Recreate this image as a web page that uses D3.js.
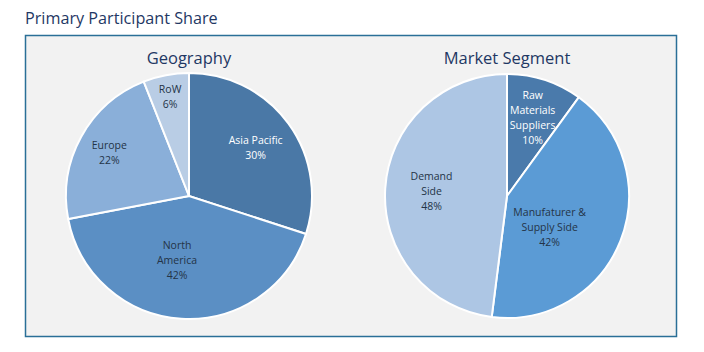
<!DOCTYPE html>
<html><head><meta charset="utf-8">
<script src="https://cdn.jsdelivr.net/npm/d3@7"></script>
<style>body{margin:0;background:#fff;}svg{display:block;font-family:"Open Sans","Noto Sans",sans-serif;}</style>
</head><body>
<svg id="c" width="704" height="352"></svg>
<script>
const geoCategories = ["Asia Pacific", "North America", "Europe", "RoW"];
const geoValues = [30, 42, 22, 6];
const segCategories = ["Raw Materials Suppliers", "Manufaturer & Supply Side", "Demand Side"];
const segValues = [10, 42, 48];

const svg = d3.select("#c");
svg.append("text").attr("x", 25).attr("y", 24).attr("font-size", 16.2).attr("fill", "#1f3864").text("Primary Participant Share");
svg.append("rect").attr("x", 25.5).attr("y", 35.5).attr("width", 651).attr("height", 301)
  .attr("fill", "#f2f2f2").attr("stroke", "#2a6f97").attr("stroke-width", 1.5);

function drawPie(cx, cy, r, title, cats, vals, colors, textColors, lines, labelPos) {
  const g = svg.append("g").attr("transform", `translate(${cx},${cy})`);
  svg.append("text").attr("x", cx).attr("y", 64).attr("text-anchor", "middle").attr("font-size", 16.5)
    .attr("fill", "#1f3864").text(title);
  const pie = d3.pie().sort(null).value(d => d.v);
  const data = pie(cats.map((c, i) => ({c, v: vals[i], i})));
  const arc = d3.arc().innerRadius(0).outerRadius(r);
  g.selectAll("path").data(data).join("path").attr("d", arc)
    .attr("fill", d => colors[d.data.i]).attr("stroke", "#fff").attr("stroke-width", 2);
  data.forEach(d => {
    const [rf, da] = labelPos[d.data.i];
    const a = (d.startAngle + d.endAngle) / 2 + da * Math.PI / 180;
    const lr = rf * r;
    const x = lr * Math.sin(a), y = -lr * Math.cos(a);
    const ls = lines[d.data.i].concat([d.data.v + "%"]);
    const lh = 15;
    const t = g.append("text").attr("text-anchor", "middle").attr("font-size", 10.5)
      .attr("fill", textColors[d.data.i]);
    ls.forEach((s, k) => {
      t.append("tspan").attr("x", x).attr("y", y + (k - (ls.length - 1) / 2) * lh + 4).text(s);
    });
  });
}

drawPie(189, 196, 123, "Geography", geoCategories, geoValues,
  ["#4a78a6", "#5b8fc4", "#8aafd9", "#b9cde5"],
  ["#ffffff", "#243447", "#243447", "#243447"],
  [["Asia Pacific"], ["North", "America"], ["Europe"], ["RoW"]],
  [[0.67, 0], [0.53, 7], [0.74, 0], [0.82, 0]]);

drawPie(507, 196, 122, "Market Segment", segCategories, segValues,
  ["#4a7aab", "#5b9bd5", "#adc6e4"],
  ["#ffffff", "#243447", "#243447"],
  [["Raw", "Materials", "Suppliers"], ["Manufaturer &", "Supply Side"], ["Demand", "Side"]],
  [[0.68, 0], [0.43, 14], [0.62, 0]]);
</script>
</body></html>
